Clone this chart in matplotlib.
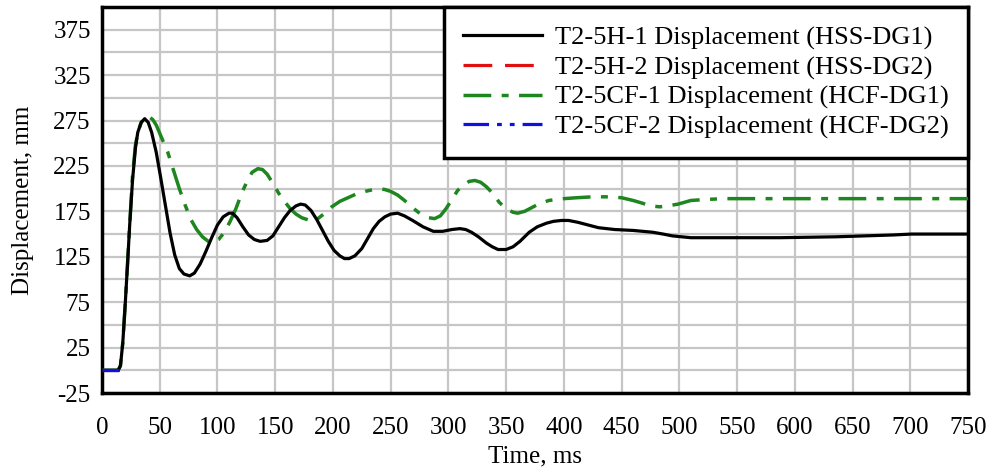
import numpy as np
import matplotlib
matplotlib.use("Agg")
import matplotlib.pyplot as plt
from matplotlib.ticker import MultipleLocator

plt.rcParams['font.family'] = ['Liberation Serif', 'DejaVu Serif']
plt.rcParams['axes.unicode_minus'] = False

# T2-5H-1 (HSS-DG1)
t_h1 = [0, 10, 14, 16, 18, 20, 22, 24, 26.5, 29, 31, 34, 37, 40, 43, 47, 51, 55, 59, 63,
        67, 71, 76, 80, 85, 90, 95, 100, 105, 110, 113, 117, 122, 127, 132, 137, 143,
        148, 153, 158, 163, 168, 172, 176, 181, 186, 191, 196, 201, 206, 210, 214, 219,
        225, 230, 235, 240, 245, 250, 256, 262, 269, 278, 287, 295, 303, 310, 315, 320,
        326, 333, 338, 343, 350, 356, 362, 370, 377, 385, 391, 398, 404, 412, 421, 430,
        444, 460, 477, 486, 494, 502, 510, 538, 587, 636, 685, 701, 750]
v_h1 = [0, 0, 0, 5, 30, 70, 114, 160, 210, 245, 262, 273, 277, 273, 262, 240, 211, 181, 151, 127,
        112, 106, 104, 107, 117, 131, 146, 160, 169, 173, 173, 168, 158, 149, 144, 142, 143,
        148, 158, 168, 176, 181, 183, 182, 176, 166, 154, 142, 132, 126, 123, 123, 126,
        134, 145, 156, 164, 169, 172, 173, 170, 165, 158, 153, 153, 155, 156, 155, 152,
        147, 140, 136, 133, 133, 136, 142, 152, 158, 162, 164, 165, 165, 163, 160, 157,
        155, 154, 152, 150, 148, 147, 146, 146, 146, 147, 149, 150, 150]

# T2-5CF-1 (HCF-DG1)
t_cf1 = [0, 14, 16, 18, 20, 22, 24, 26.5, 29, 31, 34, 37, 41, 44, 47, 52, 57, 62, 67, 72,
         77, 82, 87, 92, 96, 101, 106, 111, 116, 121, 126, 130, 135, 139, 143, 148, 153,
         158, 163, 168, 173, 180, 186, 192, 199, 206, 213, 220, 228, 235, 240, 245, 250,
         256, 262, 269, 276, 283, 288, 293, 298, 303, 308, 313, 318, 323, 328, 333, 339,
         344, 350, 356, 360, 366, 372, 378, 387, 400, 411, 425, 439, 450, 460, 468, 475,
         483, 490, 499, 510, 522, 538, 587, 636, 685, 750]
v_cf1 = [0, 0, 5, 30, 70, 114, 160, 215, 248, 262, 273, 278, 279, 276, 270, 255, 240, 220, 200, 182,
         166, 155, 147, 142, 141, 144, 152, 164, 178, 195, 209, 218, 222, 221, 216, 206, 195,
         186, 178, 172, 168, 165, 166, 172, 180, 186, 190, 194, 197, 199, 200, 199, 197,
         193, 187, 179, 172, 168, 167, 170, 178, 188, 198, 204, 208, 209, 207, 202, 194,
         185, 178, 174, 173, 175, 179, 183, 187, 189, 190, 191, 191, 190, 187, 184, 181,
         180, 181, 183, 187, 188, 189, 189, 189, 189, 189]

# second gauges only visible before the rise
t_h2 = [0, 15]
v_h2 = [0, 0]
t_cf2 = [0, 15]
v_cf2 = [0, 0]

labels = ['T2-5H-1 Displacement (HSS-DG1)', 'T2-5H-2 Displacement (HSS-DG2)',
          'T2-5CF-1 Displacement (HCF-DG1)', 'T2-5CF-2 Displacement (HCF-DG2)']

fig = plt.figure(figsize=(9.91, 4.7), dpi=100)
ax = fig.add_axes([0.1029, 0.1638, 0.8739, 0.8213])

lh1, = ax.plot(t_h1, v_h1, color='black', lw=2.3, zorder=5)
lh2, = ax.plot(t_h2, v_h2, color='#e01010', lw=2.3, dashes=(9, 4), zorder=3)
lcf1, = ax.plot(t_cf1, v_cf1, color='#1e861e', lw=2.5, dashes=(8, 3, 2, 3), zorder=4)
lcf2, = ax.plot(t_cf2, v_cf2, color='#1010e0', lw=2.3, dashes=(8, 2.5, 1.5, 2.5, 1.5, 2.5), zorder=6)

ax.set_xlim(0, 750)
ax.set_ylim(-25, 400)
ax.xaxis.set_major_locator(MultipleLocator(50))
ax.set_yticks(np.arange(-25, 400, 50))
ax.yaxis.set_minor_locator(MultipleLocator(25))
ax.grid(which='both', color='#c6c6c6', lw=1.6)
ax.set_axisbelow(True)
ax.tick_params(which='both', length=0, labelsize=18)
ax.tick_params(axis='x', pad=17)
ax.tick_params(axis='y', pad=8)

for s in ax.spines.values():
    s.set_linewidth(2.5)

ax.set_xlabel('Time, ms', fontsize=18, labelpad=5)
ax.set_ylabel('Displacement, mm', fontsize=18, labelpad=14)

leg = ax.legend([lh1, lh2, lcf1, lcf2], labels, loc='upper right', fontsize=19,
                frameon=True, fancybox=False, borderaxespad=0, handlelength=3.0,
                handletextpad=0.5, labelspacing=0.22, borderpad=0.72, framealpha=1)
leg.get_frame().set_edgecolor('black')
leg.get_frame().set_linewidth(2.5)
leg.set_zorder(10)

fig.savefig('out.png', dpi=100)
